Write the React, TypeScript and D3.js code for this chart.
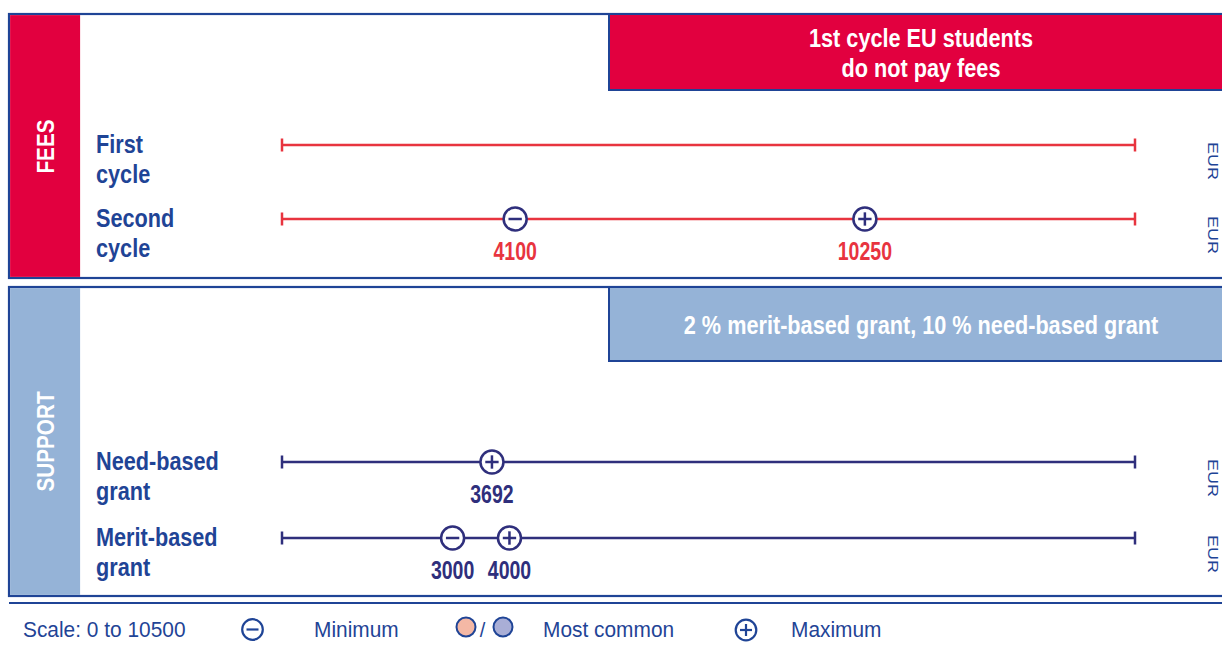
import React from 'react';
import * as d3 from 'd3';

// fees rows
const feeRows = ['First cycle', 'Second cycle'];
const feeMin: (number | null)[] = [null, 4100];
const feeMax: (number | null)[] = [null, 10250];

// support rows
const supportRows = ['Need-based grant', 'Merit-based grant'];
const supportMin: (number | null)[] = [null, 3000];
const supportMax: (number | null)[] = [3692, 4000];

const feeNote = ['1st cycle EU students', 'do not pay fees'];
const supportNote = ['2 % merit-based grant, 10 % need-based grant'];
const scaleText = 'Scale: 0 to 10500';

const W = 1222;
const H = 646;
const BLUE = '#1f4496';
const NAVY = '#2f2f7c';
const RED = '#e2003f';
const REDLINE = '#e8343f';
const LIGHT = '#95b3d7';
const sans = '"Liberation Sans", Arial, sans-serif';

const x = d3.scaleLinear().domain([0, 15000]).range([282, 1135]);

// text squeezed along its own direction to mimic the narrow fonts
const T = ({ x, y, size, sx = 1, rot = 0, anchor = 'start', bold = false, fill = BLUE, children }: any) => (
  <text
    transform={`translate(${x},${y}) rotate(${rot}) scale(${sx},1)`}
    textAnchor={anchor}
    fontFamily={sans}
    fontWeight={bold ? 'bold' : 'normal'}
    fontSize={size}
    fill={fill}
  >
    {children}
  </text>
);

const Marker = ({ cx, cy, r = 11.5, kind, sw = 2.5 }: { cx: number; cy: number; r?: number; kind: 'min' | 'max'; sw?: number }) => {
  const a = r * 0.58;
  return (
    <g>
      <circle cx={cx} cy={cy} r={r} fill="#fff" stroke={NAVY} strokeWidth={sw} />
      <line x1={cx - a} x2={cx + a} y1={cy} y2={cy} stroke={NAVY} strokeWidth={sw} />
      {kind === 'max' && <line x1={cx} x2={cx} y1={cy - a} y2={cy + a} stroke={NAVY} strokeWidth={sw} />}
    </g>
  );
};

const Row = ({ label, y, min, max, lineColor, valueColor }: any) => {
  const [l1, l2] = label.split(' ');
  const [x0, x1] = x.range();
  return (
    <g>
      <T x={96} y={y + 7.5} size={25.5} sx={0.85} bold>{l1}</T>
      <T x={96} y={y + 37.5} size={25.5} sx={0.85} bold>{l2}</T>
      <line x1={x0} x2={x1} y1={y} y2={y} stroke={lineColor} strokeWidth={2.5} />
      <line x1={x0} x2={x0} y1={y - 6.5} y2={y + 6.5} stroke={lineColor} strokeWidth={2.5} />
      <line x1={x1} x2={x1} y1={y - 6.5} y2={y + 6.5} stroke={lineColor} strokeWidth={2.5} />
      {[min, max].map((v, i) =>
        v == null ? null : (
          <g key={i}>
            <Marker cx={x(v)} cy={y} kind={i === 0 ? 'min' : 'max'} />
            <T x={x(v)} y={y + 40.5} size={25} sx={0.78} anchor="middle" bold fill={valueColor}>
              {v}
            </T>
          </g>
        )
      )}
      <T x={1208} y={y + 16} size={15} sx={1.2} rot={90} anchor="middle">EUR</T>
    </g>
  );
};

export default function App() {
  return (
    <svg width={W} height={H} style={{ position: 'absolute', left: 0, top: 0 }}>
      <rect width={W} height={H} fill="#fff" />

      {/* fees panel */}
      <rect x={9} y={14} width={1300} height={264} fill="#fff" stroke={BLUE} strokeWidth={2.2} />
      <rect x={10.1} y={15.1} width={70} height={261.8} fill={RED} />
      <T x={53.5} y={146.5} size={23} sx={0.9} rot={-90} anchor="middle" bold fill="#fff">FEES</T>
      <rect x={609} y={14} width={700} height={76} fill={RED} stroke={BLUE} strokeWidth={2} />
      {feeNote.map((t, i) => (
        <T key={t} x={921} y={47 + i * 30} size={25.5} sx={0.85} anchor="middle" bold fill="#fff">{t}</T>
      ))}
      {feeRows.map((r, i) => (
        <Row key={r} label={r} y={145 + i * 74} min={feeMin[i]} max={feeMax[i]} lineColor={REDLINE} valueColor={REDLINE} />
      ))}

      {/* support panel */}
      <rect x={9} y={287} width={1300} height={309} fill="#fff" stroke={BLUE} strokeWidth={2.2} />
      <rect x={10.1} y={288.1} width={70} height={306.8} fill={LIGHT} />
      <T x={53.5} y={441.5} size={23} sx={0.9} rot={-90} anchor="middle" bold fill="#fff">SUPPORT</T>
      <rect x={609} y={287} width={700} height={74} fill={LIGHT} stroke={BLUE} strokeWidth={2} />
      {supportNote.map((t) => (
        <T key={t} x={921} y={334} size={25.5} sx={0.85} anchor="middle" bold fill="#fff">{t}</T>
      ))}
      {supportRows.map((r, i) => (
        <Row key={r} label={r} y={462 + i * 76} min={supportMin[i]} max={supportMax[i]} lineColor={NAVY} valueColor={NAVY} />
      ))}

      {/* legend */}
      <line x1={9} x2={W} y1={603} y2={603} stroke={BLUE} strokeWidth={2.2} />
      <T x={23} y={637} size={22} sx={0.95}>{scaleText}</T>
      <circle cx={252.5} cy={629.5} r={10.3} fill="#fff" stroke={BLUE} strokeWidth={2.2} />
      <line x1={246.5} x2={258.5} y1={629.5} y2={629.5} stroke={BLUE} strokeWidth={2.2} />
      <T x={314} y={637} size={22} sx={0.95}>Minimum</T>
      <circle cx={466} cy={627} r={9.5} fill="#f4b8a5" stroke={BLUE} strokeWidth={2} />
      <T x={482.5} y={637} size={20} anchor="middle">/</T>
      <circle cx={503} cy={627} r={9.5} fill="#a9aed6" stroke={BLUE} strokeWidth={2} />
      <T x={543} y={637} size={22} sx={0.95}>Most common</T>
      <circle cx={746} cy={630} r={10.3} fill="#fff" stroke={BLUE} strokeWidth={2.2} />
      <line x1={740} x2={752} y1={630} y2={630} stroke={BLUE} strokeWidth={2.2} />
      <line x1={746} x2={746} y1={624} y2={636} stroke={BLUE} strokeWidth={2.2} />
      <T x={791} y={637} size={22} sx={0.95}>Maximum</T>
    </svg>
  );
}
